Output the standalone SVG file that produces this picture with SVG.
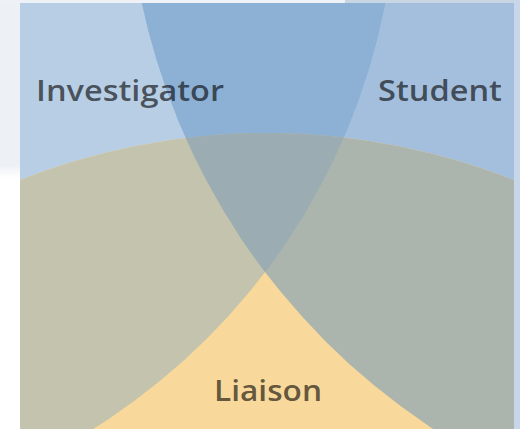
<svg xmlns="http://www.w3.org/2000/svg" width="520" height="429" viewBox="0 0 520 429">
  <style>
    .label { font-family: "Open Sans", "Liberation Sans", sans-serif; font-weight: 600; font-size: 29px; fill: #000; fill-opacity: 0.62; }
  </style>
  <defs>
    <!-- panel that all circles are cut to -->
    <clipPath id="panel"><rect x="20" y="3" width="494" height="426"/></clipPath>
    <clipPath id="clipInv"><circle cx="-249" cy="-119" r="646"/></clipPath>
    <clipPath id="clipStu"><circle cx="805" cy="-138" r="678"/></clipPath>
    <clipPath id="clipLia"><circle cx="267" cy="806" r="673"/></clipPath>
    <linearGradient id="sideFade" x1="0" y1="0" x2="0" y2="1">
      <stop offset="0" stop-color="#edf1f5"/>
      <stop offset="0.385" stop-color="#edf1f5"/>
      <stop offset="0.415" stop-color="#ffffff"/>
      <stop offset="1" stop-color="#ffffff"/>
    </linearGradient>
  </defs>

  <!-- page background around the panel -->
  <rect x="0" y="0" width="520" height="429" fill="#ffffff"/>
  <rect x="0" y="0" width="20" height="429" fill="url(#sideFade)"/>
  <rect x="0" y="0" width="345" height="3" fill="#eef2f6"/>
  <rect x="345" y="0" width="175" height="3" fill="#c8d5e3"/>
  <rect x="514" y="0" width="6" height="429" fill="#c7d6e8"/>

  <g clip-path="url(#panel)">
    <g id="investigator">
      <circle cx="-249" cy="-119" r="646" fill="#b8cee5"/>
    </g>
    <g id="student">
      <circle cx="805" cy="-138" r="678" fill="#a3bfdd"/>
    </g>
    <g id="liaison">
      <circle cx="267" cy="806" r="673" fill="#f9d99b"/>
    </g>

    <!-- pairwise and triple overlaps -->
    <g id="overlaps">
      <circle id="inv-stu" cx="-249" cy="-119" r="646" fill="#8db0d5" clip-path="url(#clipStu)"/>
      <circle id="inv-lia" cx="-249" cy="-119" r="646" fill="#c4c3ad" clip-path="url(#clipLia)"/>
      <circle id="stu-lia" cx="805" cy="-138" r="678" fill="#abb5ad" clip-path="url(#clipLia)"/>
      <g id="all-three" clip-path="url(#clipLia)">
        <circle cx="-249" cy="-119" r="646" fill="#9badb3" clip-path="url(#clipStu)"/>
      </g>
    </g>
  </g>

  <g id="labels">
    <text class="label" x="36" y="101" textLength="188" lengthAdjust="spacingAndGlyphs">Investigator</text>
    <text class="label" x="378" y="101" textLength="124" lengthAdjust="spacingAndGlyphs">Student</text>
    <text class="label" x="214" y="401" textLength="108" lengthAdjust="spacingAndGlyphs">Liaison</text>
  </g>
</svg>
